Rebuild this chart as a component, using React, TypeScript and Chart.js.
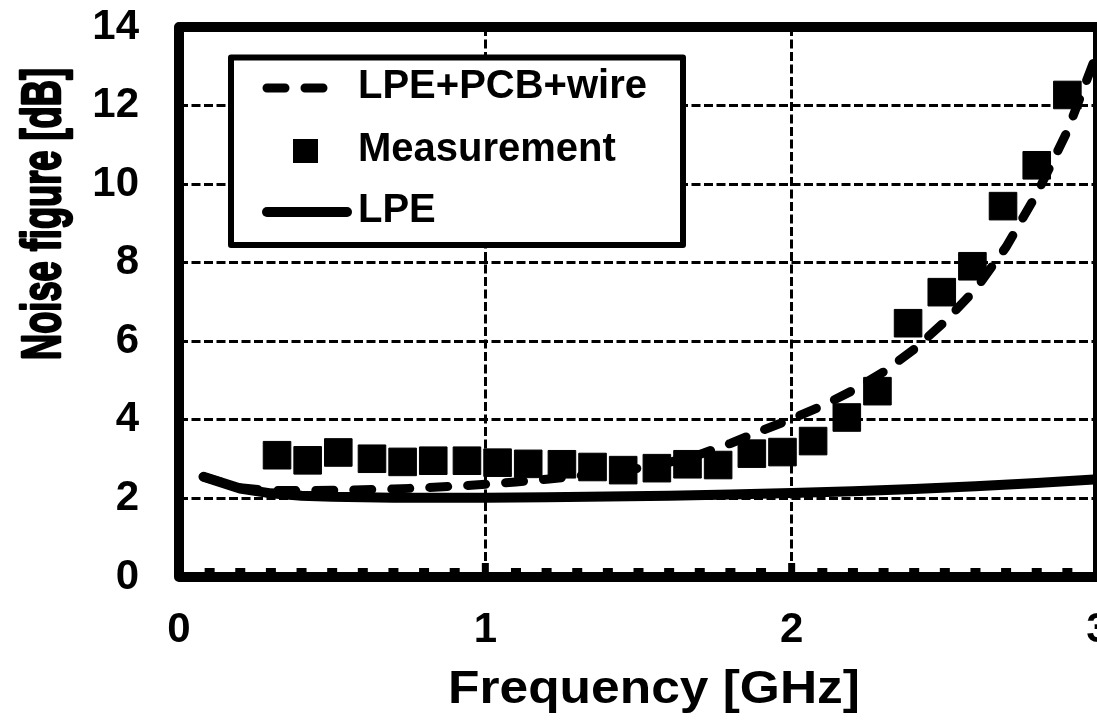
import React, { useEffect, useRef } from "react";
import { Chart, registerables } from "chart.js";

Chart.register(...registerables);

// ---------- data ----------
const xTitle = "Frequency [GHz]";
const yTitle = "Noise figure [dB]";
const xTickValues = [0, 1, 2, 3];
const yTickValues = [0, 2, 4, 6, 8, 10, 12, 14];
const seriesLabels = ["LPE+PCB+wire", "Measurement", "LPE"];

const wireFreq = [0.08, 0.2, 0.3, 0.4, 0.5, 0.6, 0.7, 0.8, 0.9, 1.0, 1.1, 1.2, 1.3, 1.4, 1.5, 1.6, 1.7, 1.8, 1.9, 2.0, 2.1, 2.2, 2.3, 2.4, 2.5, 2.6, 2.7, 2.8, 2.9, 3.0];
const wireNF = [2.55, 2.27, 2.2, 2.2, 2.21, 2.22, 2.24, 2.27, 2.31, 2.36, 2.42, 2.49, 2.57, 2.66, 2.77, 2.92, 3.12, 3.4, 3.72, 4.02, 4.36, 4.75, 5.22, 5.8, 6.5, 7.32, 8.4, 9.75, 11.35, 13.4];

const measFreq = [0.32, 0.42, 0.52, 0.63, 0.73, 0.83, 0.94, 1.04, 1.14, 1.25, 1.35, 1.45, 1.56, 1.66, 1.76, 1.87, 1.97, 2.07, 2.18, 2.28, 2.38, 2.49, 2.59, 2.69, 2.8, 2.9];
const measNF = [3.1, 2.97, 3.17, 3.01, 2.93, 2.96, 2.96, 2.91, 2.88, 2.87, 2.8, 2.72, 2.77, 2.87, 2.85, 3.14, 3.18, 3.46, 4.06, 4.73, 6.46, 7.25, 7.91, 9.44, 10.48, 12.27];

const lpeFreq = [0.08, 0.2, 0.3, 0.4, 0.5, 0.7, 1.0, 1.2, 1.4, 1.6, 1.8, 2.0, 2.2, 2.4, 2.6, 2.8, 3.0];
const lpeNF = [2.55, 2.25, 2.13, 2.07, 2.04, 2.02, 2.02, 2.03, 2.05, 2.07, 2.1, 2.14, 2.18, 2.24, 2.31, 2.39, 2.49];

// ---------- style ----------
const FONT = '"Liberation Sans", Arial, Helvetica, sans-serif';
const CANVAS_W = 1140;
const CANVAS_H = 723;

const toPoints = (xs: number[], ys: number[]) => xs.map((x, i) => ({ x, y: ys[i] }));

const framePlugin = {
  id: "frameTicks",
  afterDraw(chart: any) {
    const { ctx, chartArea: a, scales } = chart;
    const xs = scales.x;
    ctx.save();
    ctx.fillStyle = "#000";
    for (let i = 1; i < 30; i++) {
      const px = xs.getPixelForValue(i / 10);
      if (i % 10 === 0) ctx.fillRect(px - 3.5, a.bottom - 14, 7, 10);
      else ctx.fillRect(px - 5, a.bottom - 9, 10, 5);
    }
    ctx.lineWidth = 10;
    ctx.lineJoin = "round";
    ctx.strokeStyle = "#000";
    ctx.strokeRect(a.left, a.top, a.right - a.left, a.bottom - a.top);
    ctx.restore();
  },
};

const titlePlugin = {
  id: "axisTitles",
  afterDraw(chart: any) {
    const ctx = chart.ctx;
    ctx.save();
    ctx.fillStyle = "#000";
    ctx.strokeStyle = "#000";
    ctx.textAlign = "center";
    ctx.textBaseline = "alphabetic";
    // x title
    ctx.font = `bold 47px ${FONT}`;
    let w = ctx.measureText(xTitle).width;
    ctx.save();
    ctx.translate(654, 703);
    ctx.scale(412 / w, 1);
    ctx.fillText(xTitle, 0, 0);
    ctx.restore();
    // y title (condensed, heavy)
    ctx.font = `bold 56px ${FONT}`;
    w = ctx.measureText(yTitle).width;
    ctx.save();
    ctx.translate(60, 214);
    ctx.rotate(-Math.PI / 2);
    ctx.scale(292 / w, 1);
    ctx.fillText(yTitle, 0, 0);
    ctx.lineWidth = 2.5;
    ctx.lineJoin = "round";
    ctx.strokeText(yTitle, 0, 0);
    ctx.restore();
    ctx.restore();
  },
};

const legendPlugin = {
  id: "boxLegend",
  afterDatasetsDraw(chart: any) {
    const ctx = chart.ctx;
    const ds = chart.data.datasets;
    ctx.save();
    ctx.fillStyle = "#fff";
    ctx.fillRect(231, 57.5, 452, 187.5);
    ctx.lineWidth = 6;
    ctx.lineJoin = "round";
    ctx.strokeStyle = "#000";
    ctx.strokeRect(231, 57.5, 452, 187.5);

    const rows = [88, 151, 212];
    ds.forEach((d: any, i: number) => {
      const y = rows[i];
      ctx.strokeStyle = "#000";
      ctx.fillStyle = "#000";
      if (d.showLine === false) {
        ctx.fillRect(293, y - 12, 25, 24);
      } else {
        ctx.save();
        ctx.lineWidth = d.borderWidth;
        ctx.lineCap = "round";
        ctx.setLineDash(d.borderDash || []);
        ctx.beginPath();
        ctx.moveTo(267, y);
        ctx.lineTo(d.borderDash ? 343 : 347, y);
        ctx.stroke();
        ctx.restore();
      }
      ctx.font = `bold 40px ${FONT}`;
      ctx.textAlign = "left";
      ctx.textBaseline = "middle";
      ctx.fillText(d.label, 358, y - 1);
    });
    ctx.restore();
  },
};

export default function App() {
  const ref = useRef<HTMLCanvasElement | null>(null);

  useEffect(() => {
    if (!ref.current) return;
    const tickFont = { family: FONT, size: 42, weight: "bold" as const };
    const chart = new Chart(ref.current, {
      type: "scatter",
      data: {
        datasets: [
          {
            label: seriesLabels[0],
            data: toPoints(wireFreq, wireNF),
            showLine: true,
            borderColor: "#000",
            borderWidth: 9,
            borderDash: [18, 20],
            borderCapStyle: "round",
            pointRadius: 0,
            tension: 0,
          },
          {
            label: seriesLabels[1],
            data: toPoints(measFreq, measNF),
            showLine: false,
            pointStyle: "rect",
            pointRadius: 19.5,
            backgroundColor: "#000",
            borderColor: "#000",
            borderWidth: 1,
          },
          {
            label: seriesLabels[2],
            data: toPoints(lpeFreq, lpeNF),
            showLine: true,
            borderColor: "#000",
            borderWidth: 10,
            borderCapStyle: "round",
            pointRadius: 0,
            tension: 0,
          },
        ],
      } as any,
      options: {
        responsive: false,
        animation: false,
        devicePixelRatio: 1,
        layout: { autoPadding: false, padding: { top: 27, right: CANVAS_W - 1098, bottom: 0, left: 0 } },
        plugins: { legend: { display: false }, tooltip: { enabled: false } },
        scales: {
          x: {
            type: "linear",
            min: 0,
            max: 3,
            afterBuildTicks: (s: any) => {
              s.ticks = xTickValues.map((v) => ({ value: v }));
            },
            afterFit: (s: any) => {
              s.height = CANVAS_H - 577;
            },
            ticks: { font: tickFont, color: "#000", padding: 0, maxRotation: 0, autoSkip: false },
            grid: {
              color: (c: any) => (c.tick && c.tick.value > 0 && c.tick.value < 3 ? "#000" : "rgba(0,0,0,0)"),
              lineWidth: 3,
              drawTicks: true,
              tickLength: 28,
              tickColor: "rgba(0,0,0,0)",
            },
            border: { display: false, dash: [9, 3.5] },
          },
          y: {
            type: "linear",
            min: 0,
            max: 14,
            afterBuildTicks: (s: any) => {
              s.ticks = yTickValues.map((v) => ({ value: v }));
            },
            afterFit: (s: any) => {
              s.width = 179;
            },
            ticks: { font: tickFont, color: "#000", padding: 0 },
            grid: {
              color: (c: any) => (c.tick && c.tick.value > 0 && c.tick.value < 14 ? "#000" : "rgba(0,0,0,0)"),
              lineWidth: 3,
              drawTicks: true,
              tickLength: 40,
              tickColor: "rgba(0,0,0,0)",
            },
            border: { display: false, dash: [9, 3.5] },
          },
        },
      } as any,
      plugins: [legendPlugin, framePlugin, titlePlugin],
    });
    return () => chart.destroy();
  }, []);

  return (
    <div
      style={{
        position: "fixed",
        left: 0,
        top: 0,
        width: 1097,
        height: 723,
        overflow: "hidden",
        background: "#fff",
      }}
    >
      <canvas ref={ref} width={CANVAS_W} height={CANVAS_H} style={{ display: "block" }} />
    </div>
  );
}
